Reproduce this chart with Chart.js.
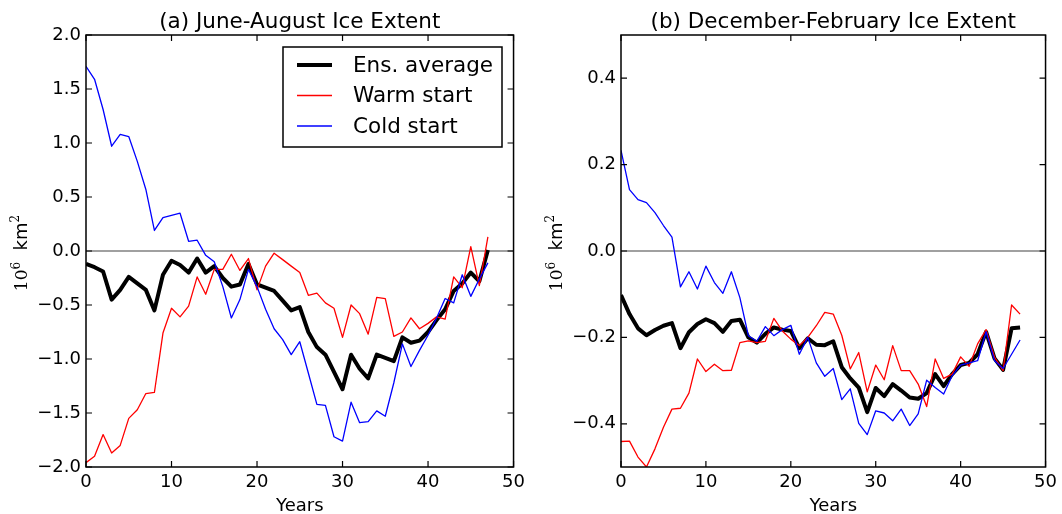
<!DOCTYPE html>
<html>
<head>
<meta charset="utf-8">
<script src="https://cdn.jsdelivr.net/npm/chart.js@4/dist/chart.umd.min.js"></script>
<style>
  html, body { margin: 0; padding: 0; background: #ffffff; }
  body { width: 1062px; height: 514px; position: relative; overflow: hidden; }
  .panel { position: absolute; top: 0; height: 514px; }
  #wrapA { left: 0; width: 530px; }
  #wrapB { left: 535px; width: 527px; }
</style>
</head>
<body>
<div class="panel" id="wrapA"><canvas id="jja"></canvas></div>
<div class="panel" id="wrapB"><canvas id="djf"></canvas></div>
<script>
// Years since the start of the runs
const years = [0,1,2,3,4,5,6,7,8,9,10,11,12,13,14,15,16,17,18,19,20,21,22,23,
               24,25,26,27,28,29,30,31,32,33,34,35,36,37,38,39,40,41,42,43,44,45,46,47];

// (a) June-August ice extent anomaly, 10^6 km^2
const jjaEnsemble = [-0.12,-0.15,-0.19,-0.45,-0.36,-0.24,-0.30,-0.36,-0.55,-0.22,
                     -0.09,-0.13,-0.20,-0.07,-0.20,-0.14,-0.25,-0.33,-0.31,-0.12,
                     -0.31,-0.34,-0.37,-0.46,-0.55,-0.52,-0.75,-0.89,-0.96,-1.12,
                     -1.28,-0.96,-1.09,-1.18,-0.96,-0.99,-1.02,-0.80,-0.85,-0.83,
                     -0.75,-0.64,-0.54,-0.37,-0.30,-0.20,-0.28,0.01];
const jjaWarm = [-1.96,-1.90,-1.70,-1.87,-1.80,-1.55,-1.47,-1.32,-1.31,-0.76,
                 -0.53,-0.61,-0.51,-0.24,-0.40,-0.17,-0.17,-0.03,-0.18,-0.07,
                 -0.36,-0.14,-0.02,-0.08,-0.14,-0.20,-0.41,-0.39,-0.48,-0.53,
                 -0.80,-0.50,-0.58,-0.77,-0.43,-0.44,-0.79,-0.75,-0.62,-0.72,
                 -0.67,-0.61,-0.63,-0.24,-0.34,0.04,-0.32,0.13];
const jjaCold = [1.71,1.59,1.31,0.97,1.08,1.06,0.83,0.57,0.19,0.31,
                 0.33,0.35,0.09,0.10,-0.04,-0.10,-0.33,-0.62,-0.45,-0.17,
                 -0.33,-0.54,-0.72,-0.82,-0.96,-0.84,-1.13,-1.42,-1.43,-1.72,
                 -1.76,-1.40,-1.59,-1.58,-1.48,-1.53,-1.22,-0.86,-1.07,-0.92,
                 -0.78,-0.62,-0.44,-0.48,-0.22,-0.42,-0.26,-0.11];

// (b) December-February ice extent anomaly, 10^6 km^2
const djfEnsemble = [-0.102,-0.146,-0.179,-0.195,-0.183,-0.173,-0.167,-0.225,-0.188,-0.169,
                     -0.158,-0.167,-0.187,-0.162,-0.159,-0.200,-0.212,-0.192,-0.177,-0.182,
                     -0.185,-0.225,-0.202,-0.217,-0.218,-0.209,-0.269,-0.295,-0.316,-0.373,
                     -0.317,-0.336,-0.308,-0.323,-0.339,-0.342,-0.329,-0.285,-0.313,-0.285,
                     -0.264,-0.259,-0.239,-0.187,-0.249,-0.275,-0.179,-0.177];
const djfWarm = [-0.441,-0.440,-0.477,-0.500,-0.458,-0.408,-0.366,-0.364,-0.329,-0.250,
                 -0.279,-0.262,-0.277,-0.276,-0.212,-0.208,-0.212,-0.209,-0.156,-0.185,
                 -0.204,-0.219,-0.200,-0.173,-0.142,-0.146,-0.195,-0.273,-0.235,-0.326,
                 -0.264,-0.298,-0.219,-0.277,-0.277,-0.308,-0.360,-0.250,-0.295,-0.285,
                 -0.245,-0.267,-0.215,-0.182,-0.246,-0.277,-0.125,-0.146];
const djfCold = [0.233,0.142,0.119,0.112,0.089,0.059,0.032,-0.083,-0.048,-0.088,
                 -0.035,-0.073,-0.098,-0.048,-0.108,-0.196,-0.209,-0.175,-0.196,-0.182,
                 -0.172,-0.239,-0.200,-0.259,-0.290,-0.272,-0.344,-0.319,-0.399,-0.425,
                 -0.370,-0.375,-0.393,-0.366,-0.404,-0.377,-0.299,-0.316,-0.331,-0.289,
                 -0.264,-0.259,-0.254,-0.187,-0.254,-0.272,-0.239,-0.206];

// Tick positions
const yearTicks = [0, 10, 20, 30, 40, 50];
const jjaTicks = [-2.0, -1.5, -1.0, -0.5, 0.0, 0.5, 1.0, 1.5, 2.0];
const djfTicks = [-0.4, -0.2, 0.0, 0.2, 0.4];

const seriesNames = ['Ens. average', 'Warm start', 'Cold start'];
const seriesColors = ['#000000', '#ff0000', '#0000ff'];
const seriesWidths = [4, 1.3, 1.3];

const SANS = '"DejaVu Sans", "Liberation Sans", sans-serif';
const SERIF = '"DejaVu Serif", "Liberation Serif", serif';

function toPoints(values) {
  return years.map((yr, i) => ({ x: yr, y: values[i] }));
}

function formatTick(v) {
  const s = Math.abs(v).toFixed(1);
  return (v < 0 ? '\u2212' : '') + s;
}

// Axes frame, inward tick marks, zero line, title, y label and legend
const framePlugin = {
  id: 'frame',
  beforeDatasetsDraw(chart) {
    const { ctx, chartArea: a, scales: { x, y } } = chart;
    const y0 = y.getPixelForValue(0);
    ctx.save();
    ctx.strokeStyle = '#808080';
    ctx.lineWidth = 1.5;
    ctx.beginPath();
    ctx.moveTo(a.left, y0);
    ctx.lineTo(a.right, y0);
    ctx.stroke();
    ctx.restore();
  },
  afterDraw(chart, args, opts) {
    const { ctx, chartArea: a, scales: { x, y } } = chart;
    ctx.save();
    ctx.strokeStyle = '#000000';
    ctx.lineWidth = 1.5;
    ctx.strokeRect(a.left, a.top, a.right - a.left, a.bottom - a.top);

    const tl = 6;
    ctx.lineWidth = 1.2;
    ctx.beginPath();
    x.ticks.forEach(t => {
      const px = x.getPixelForValue(t.value);
      ctx.moveTo(px, a.bottom); ctx.lineTo(px, a.bottom - tl);
      ctx.moveTo(px, a.top); ctx.lineTo(px, a.top + tl);
    });
    y.ticks.forEach(t => {
      const py = y.getPixelForValue(t.value);
      ctx.moveTo(a.left, py); ctx.lineTo(a.left + tl, py);
      ctx.moveTo(a.right, py); ctx.lineTo(a.right - tl, py);
    });
    ctx.stroke();

    // title
    ctx.fillStyle = '#000000';
    ctx.font = '21.5px ' + SANS;
    ctx.textAlign = 'center';
    ctx.textBaseline = 'alphabetic';
    ctx.fillText(opts.title, (a.left + a.right) / 2, 28);

    // y axis label: 10^6 km^2
    ctx.save();
    ctx.translate(a.left - 59, (a.top + a.bottom) / 2 + 2);
    ctx.rotate(-Math.PI / 2);
    ctx.textAlign = 'left';
    const parts = [
      { t: '10', f: '17px ' + SERIF, dy: 0 },
      { t: '6', f: '12px ' + SERIF, dy: -7 },
      { t: '  km', f: '18px ' + SANS, dy: 0 },
      { t: '2', f: '12px ' + SERIF, dy: -8 }
    ];
    let total = 0;
    parts.forEach(p => { ctx.font = p.f; p.w = ctx.measureText(p.t).width; total += p.w; });
    let cx = -total / 2;
    parts.forEach(p => { ctx.font = p.f; ctx.fillText(p.t, cx, p.dy); cx += p.w; });
    ctx.restore();

    if (opts.legend) {
      const bx = a.left + 197, by = a.top + 12, bw = 219, bh = 100;
      ctx.fillStyle = '#ffffff';
      ctx.fillRect(bx, by, bw, bh);
      ctx.strokeStyle = '#000000';
      ctx.lineWidth = 1.5;
      ctx.strokeRect(bx, by, bw, bh);
      ctx.font = '21.5px ' + SANS;
      ctx.textAlign = 'left';
      ctx.textBaseline = 'middle';
      seriesNames.forEach((name, i) => {
        const ly = by + 18 + i * 30.5;
        ctx.strokeStyle = seriesColors[i];
        ctx.lineWidth = seriesWidths[i];
        ctx.beginPath();
        ctx.moveTo(bx + 14, ly);
        ctx.lineTo(bx + 49, ly);
        ctx.stroke();
        ctx.fillStyle = '#000000';
        ctx.fillText(name, bx + 70, ly + 1);
      });
    }
    ctx.restore();
  }
};

function makeChart(canvasId, series, yMin, yMax, yTickValues, title, showLegend, padRight) {
  const datasets = series.map((vals, i) => ({
    label: seriesNames[i],
    data: toPoints(vals),
    borderColor: seriesColors[i],
    borderWidth: seriesWidths[i],
    pointRadius: 0,
    tension: 0,
    fill: false,
    borderJoinStyle: 'round',
    order: 2 - i
  }));
  return new Chart(document.getElementById(canvasId), {
    type: 'line',
    data: { datasets },
    plugins: [framePlugin],
    options: {
      responsive: true,
      maintainAspectRatio: false,
      animation: false,
      events: [],
      layout: { padding: { top: 35, right: padRight, bottom: 0, left: 0 } },
      plugins: {
        legend: { display: false },
        tooltip: { enabled: false },
        frame: { title: title, legend: showLegend }
      },
      scales: {
        x: {
          type: 'linear',
          min: 0, max: 50,
          afterBuildTicks: s => { s.ticks = yearTicks.map(v => ({ value: v })); },
          afterFit: s => { s.height = 47; },
          grid: { display: false, drawTicks: false },
          border: { display: false },
          ticks: {
            color: '#000000',
            padding: 5,
            maxRotation: 0,
            font: { family: SANS, size: 18 },
            callback: v => String(v)
          },
          title: {
            display: true,
            text: 'Years',
            color: '#000000',
            padding: { top: 0, bottom: 0 },
            font: { family: SANS, size: 18, lineHeight: 0.8 }
          }
        },
        y: {
          type: 'linear',
          min: yMin, max: yMax,
          afterBuildTicks: s => { s.ticks = yTickValues.map(v => ({ value: v })); },
          afterFit: s => { s.width = 86; },
          grid: { display: false, drawTicks: false },
          border: { display: false },
          ticks: {
            color: '#000000',
            padding: 5,
            font: { family: SANS, size: 18 },
            callback: v => formatTick(v)
          }
        }
      }
    }
  });
}

makeChart('jja', [jjaEnsemble, jjaWarm, jjaCold], -2, 2, jjaTicks,
          '(a) June-August Ice Extent', true, 16);
makeChart('djf', [djfEnsemble, djfWarm, djfCold], -0.5, 0.5, djfTicks,
          '(b) December-February Ice Extent', false, 14);
</script>
</body>
</html>
